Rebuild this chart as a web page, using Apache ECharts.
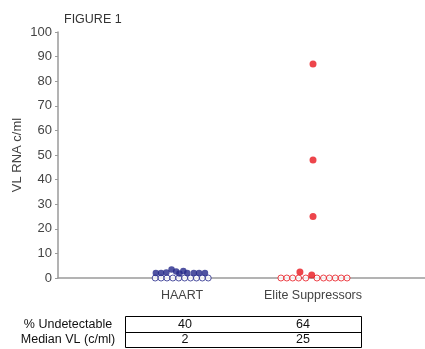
<!DOCTYPE html>
<html>
<head>
<meta charset="utf-8">
<script src="https://cdn.jsdelivr.net/npm/echarts@6/dist/echarts.min.js"></script>
<style>html,body{margin:0;padding:0;background:#fff}#c{width:425px;height:349px}</style>
</head>
<body>
<div id="c"></div>
<script>
// Categories and their positions on the x value axis
const categories = ['HAART', 'Elite Suppressors'];
const categoryPos = [1, 2];
const yTicks = [0, 10, 20, 30, 40, 50, 60, 70, 80, 90, 100];

// HAART: detectable (filled) points as [jitter, VL]
const haartDetectable = [
  [-0.20, 2.0], [-0.16, 2.0], [-0.12, 2.2], [-0.08, 3.5], [-0.045, 2.6],
  [-0.02, 1.8], [0.01, 2.8], [0.04, 2.0], [0.09, 2.0], [0.13, 2.0], [0.175, 2.0]
];
// HAART: undetectable (open) points, jitter only, VL = 0
const haartUndetectable = [-0.205, -0.16, -0.115, -0.07, -0.025, 0.02, 0.065, 0.11, 0.155, 0.2];

// Elite suppressors: detectable (filled) points
const esDetectable = [
  [0.0, 87], [0.0, 48], [0.0, 25], [-0.10, 2.4], [-0.01, 1.2]
];
// Elite suppressors: undetectable (open) points
const esUndetectable = [-0.245, -0.2, -0.155, -0.11, -0.055, 0.03, 0.08, 0.125, 0.17, 0.215, 0.26];

// Table below the chart
const tableRows = ['% Undetectable', 'Median VL (c/ml)'];
const tableHAART = ['40', '2'];
const tableES = ['64', '25'];

const blue = '#24288a';
const red = '#e8161e';
const txt = '#444';

function pts(arr, base) { return arr.map(p => [base + p[0], p[1]]); }
function zeros(arr, base) { return arr.map(o => [base + o, 0]); }

const chart = echarts.init(document.getElementById('c'), null, {renderer: 'canvas'});

const tableGraphics = [
  {type: 'rect', shape: {x: 125.5, y: 316.5, width: 236, height: 31}, style: {fill: 'none', stroke: '#000', lineWidth: 1}},
  {type: 'line', shape: {x1: 125.5, y1: 332.5, x2: 361.5, y2: 332.5}, style: {stroke: '#000', lineWidth: 1}}
];
tableRows.forEach((r, i) => {
  const y = 324.5 + i * 15.5;
  tableGraphics.push({type: 'text', x: 68, y: y, style: {text: r, fontSize: 12.5, fontFamily: 'Liberation Sans, Arial', fill: '#111', align: 'center', verticalAlign: 'middle'}});
  tableGraphics.push({type: 'text', x: 185, y: y, style: {text: tableHAART[i], fontSize: 12.5, fontFamily: 'Liberation Sans, Arial', fill: '#111', align: 'center', verticalAlign: 'middle'}});
  tableGraphics.push({type: 'text', x: 303, y: y, style: {text: tableES[i], fontSize: 12.5, fontFamily: 'Liberation Sans, Arial', fill: '#111', align: 'center', verticalAlign: 'middle'}});
});

chart.setOption({
  animation: false,
  backgroundColor: '#fff',
  title: {
    text: 'FIGURE 1', left: 59, top: 8,
    textStyle: {fontSize: 12.5, fontWeight: 'normal', color: '#333', fontFamily: 'Liberation Sans, Arial'}
  },
  grid: {left: 58, right: 0, top: 32, bottom: 71, containLabel: false},
  xAxis: {
    type: 'value', min: 0.053, max: 2.855,
    splitLine: {show: false},
    axisTick: {show: false},
    axisLine: {show: true, lineStyle: {color: '#9a9a9a', width: 1.5}},
    axisLabel: {
      customValues: categoryPos,
      formatter: v => categories[categoryPos.indexOf(Math.round(v))] || '',
      fontSize: 12.5, color: txt, margin: 11, fontFamily: 'Liberation Sans, Arial'
    }
  },
  yAxis: {
    type: 'value', min: 0, max: 100, interval: 10,
    name: 'VL RNA c/ml', nameLocation: 'middle', nameGap: 34, nameMoveOverlap: false,
    nameTextStyle: {fontSize: 13, color: txt, fontFamily: 'Liberation Sans, Arial'},
    splitLine: {show: false},
    axisLine: {show: true, lineStyle: {color: '#9a9a9a', width: 1.5}},
    axisTick: {show: true, length: 3, lineStyle: {color: '#9a9a9a'}},
    axisLabel: {fontSize: 13, color: txt, margin: 6, fontFamily: 'Liberation Sans, Arial',
      formatter: v => yTicks.includes(v) ? String(v) : ''}
  },
  series: [
    {type: 'scatter', data: zeros(haartUndetectable, categoryPos[0]), symbolSize: 6,
      itemStyle: {color: '#fff', borderColor: blue, borderWidth: 1}, z: 2},
    {type: 'scatter', data: pts(haartDetectable, categoryPos[0]), symbolSize: 6.5,
      itemStyle: {color: blue}, z: 3},
    {type: 'scatter', data: zeros(esUndetectable, categoryPos[1]), symbolSize: 6,
      itemStyle: {color: '#fff', borderColor: red, borderWidth: 1}, z: 2},
    {type: 'scatter', data: pts(esDetectable, categoryPos[1]), symbolSize: 7,
      itemStyle: {color: red}, z: 3}
  ],
  graphic: tableGraphics
});
</script>
</body>
</html>
